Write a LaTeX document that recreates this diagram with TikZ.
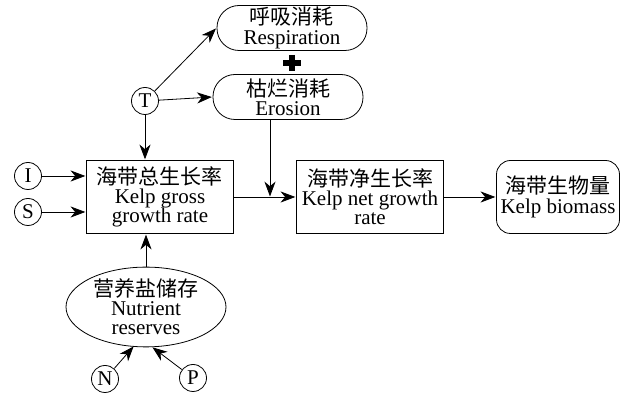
\documentclass[tikz,border=0pt]{standalone}
\usepackage{fontspec}
\setmainfont{Liberation Serif}
\newfontfamily\zh{Noto Sans CJK SC}
\usetikzlibrary{arrows.meta,shapes.geometric}

\begin{document}
\begin{tikzpicture}[x=0.5pt,y=-0.5pt]
  \tikzset{every node/.style={font=\fontsize{10.5}{9.6}\selectfont, align=center, inner sep=0pt},
    pill/.style={draw, rounded corners=11pt, minimum width=75pt, minimum height=22.5pt},
    ratebox/.style={draw, minimum width=73.5pt, minimum height=36.5pt},
    var/.style={draw, circle, minimum size=13.5pt},
    >={Stealth[length=8pt,width=6pt,inset=2.5pt]}, line width=0.6pt}
  \useasboundingbox (0,0) rectangle (628,395);
  \node[pill] (resp) at (292,28) {{\zh 呼吸消耗}\\Respiration};
  \node[pill] (eros) at (288,97) {{\zh 枯烂消耗}\\Erosion};
  \node[var] (T) at (145,101) {T};
  \node[var] (I) at (28,176) {I};
  \node[var] (S) at (28,212) {S};
  \node[ratebox] (gross) at (160,197) {{\zh 海带总生长率}\\Kelp gross\\growth rate};
  \node[ratebox] (net) at (370,197) {{\zh 海带净生长率}\\Kelp net growth\\rate};
  \node[draw, rounded corners=7pt, minimum width=61.5pt, minimum height=36.5pt] (mass) at (558,197) {{\zh 海带生物量}\\Kelp biomass};
  \node[draw, ellipse, minimum width=80pt, minimum height=37.5pt] (nutr) at (146,307) {{\zh 营养盐储存}\\Nutrient\\reserves};
  \node[var] (N) at (105,379) {N};
  \node[var] (P) at (193,378) {P};
  % plus sign between the two losses
  \draw[line width=3pt] (292,55) -- (292,71) (283,63) -- (301,63);
  \coordinate (join) at (270,197);
  \draw[->] (T) -- (resp.west);
  \draw[->] (T) -- (eros.west);
  \draw[->] (T) -- (gross.north -| T);
  \draw[->] (I) -- (gross.west |- I);
  \draw[->] (S) -- (gross.west |- S);
  \draw[->] (nutr) -- (gross.south -| nutr);
  \draw[->] (N) -- (134,346);
  \draw[->] (P) -- (152,347);
  \draw[->] (eros.south -| join) -- (join);
  \draw[->] (gross) -- (net);
  \draw[->] (net) -- (mass);
\end{tikzpicture}
\end{document}
